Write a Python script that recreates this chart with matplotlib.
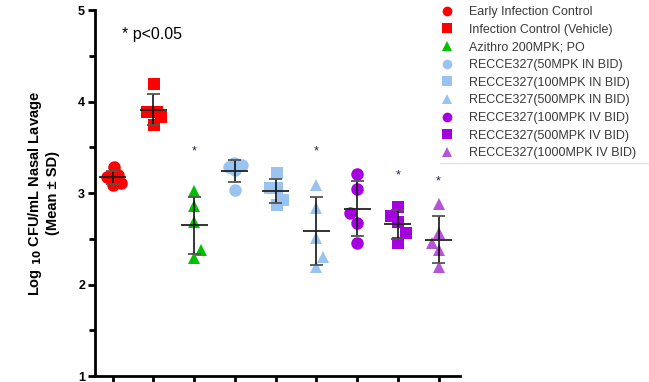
import matplotlib
matplotlib.use('Agg')
import matplotlib.pyplot as plt
from matplotlib.lines import Line2D
import numpy as np

plt.rcParams['font.family'] = ['Liberation Sans', 'DejaVu Sans']

groups = [
    'Early Infection Control',
    'Infection Control (Vehicle)',
    'Azithro 200MPK; PO',
    'RECCE327(50MPK IN BID)',
    'RECCE327(100MPK IN BID)',
    'RECCE327(500MPK IN BID)',
    'RECCE327(100MPK IV BID)',
    'RECCE327(500MPK IV BID)',
    'RECCE327(1000MPK IV BID)',
]

values = [
    [3.28, 3.17, 3.20, 3.09, 3.11],
    [4.19, 3.89, 3.89, 3.83, 3.74],
    [3.02, 2.86, 2.68, 2.38, 2.29],
    [3.33, 3.31, 3.28, 3.25, 3.03],
    [3.22, 3.05, 3.05, 2.92, 2.87],
    [3.09, 2.84, 2.51, 2.30, 2.19],
    [3.21, 3.04, 2.78, 2.67, 2.45],
    [2.85, 2.75, 2.68, 2.56, 2.45],
    [2.88, 2.56, 2.45, 2.38, 2.19],
]

significant = [False, False, True, False, False, True, False, True, True]
star_y = [None, None, 3.45, None, None, 3.45, None, 3.19, 3.13]

colors = ['#ff0000', '#ff0000', '#00c000', '#99c4f2', '#99c4f2', '#99c4f2',
          '#a400e0', '#a400e0', '#b455d8']
markers = ['o', 's', '^', 'o', 's', '^', 'o', 's', '^']

# horizontal jitter of points, in pixels
jitter_px = [
    [1, -6, 5, 0, 8],
    [1, -6, 4, 8, 1],
    [0, 0, 0, 7, 0],
    [-1, 7, -6, 0, 0],
    [1, -6, 1, 7, 1],
    [0, 0, 0, 7, 0],
    [0, 0, -7, 0, 0],
    [0, -7, 0, 8, 0],
    [0, 0, -7, 0, 0],
]
px_per_unit = 40.7

fig = plt.figure(figsize=(6.49, 3.82), dpi=100)
ax = fig.add_axes([0.146, 0.0157, 0.563, 0.958])

for i, vals in enumerate(values):
    vals = np.array(vals)
    xs = i + np.array(jitter_px[i]) / px_per_unit
    ax.plot(xs, vals, linestyle='none', marker=markers[i], color=colors[i],
            markersize=9 if markers[i] != 's' else 8.5, markeredgewidth=0, zorder=2)
    m = vals.mean()
    sd = vals.std(ddof=1)
    ax.vlines(i, m - sd, m + sd, color='black', linewidth=1.1, zorder=3)
    ax.hlines([m - sd, m + sd], i - 0.16, i + 0.16, color='#555555', linewidth=1.3, zorder=3)
    ax.hlines(m, i - 0.33, i + 0.33, color='#222222', linewidth=1.3, zorder=3)
    if significant[i]:
        ax.text(i, star_y[i], '*', ha='center', va='center', fontsize=9,
                color='#1a2a40', zorder=4)

ax.set_xlim(-0.44, 8.53)
ax.set_ylim(1, 5)
ax.set_xticks(range(len(groups)))
ax.set_xticklabels([])
ax.set_yticks([1, 2, 3, 4, 5])
ax.set_yticks([1.5, 2.5, 3.5, 4.5], minor=True)
ax.set_yticklabels(['1', '2', '3', '4', '5'], fontweight='bold', fontsize=9)
ax.tick_params(axis='both', which='major', direction='out', length=5, width=2, pad=2)
ax.tick_params(axis='y', which='minor', direction='out', length=4, width=2)
for side in ['top', 'right']:
    ax.spines[side].set_visible(False)
for side in ['left', 'bottom']:
    ax.spines[side].set_linewidth(2)

ax.set_ylabel('Log $\\mathbf{_{10}}$ CFU/mL Nasal Lavage\n(Mean ± SD)',
              fontweight='bold', fontsize=10.5, labelpad=13)

ax.text(0.075, 0.934, '* p<0.05', transform=ax.transAxes, fontsize=11.5,
        ha='left', va='center')

handles = [Line2D([], [], linestyle='none', marker=markers[i], color=colors[i],
                  markersize=7, markeredgewidth=0) for i in range(len(groups))]
leg = fig.legend(handles, groups, loc='upper left', bbox_to_anchor=(0.672, 0.997),
                 frameon=False, fontsize=9, handlelength=1.0, handletextpad=1.25,
                 labelspacing=0.45, borderaxespad=0)
for t in leg.get_texts():
    t.set_color('#3a3a3a')

fig.add_artist(Line2D([0.678, 1.0], [0.573, 0.573], transform=fig.transFigure,
                      color='#e2e2e2', linewidth=1))

fig.savefig('out.png', dpi=100)
